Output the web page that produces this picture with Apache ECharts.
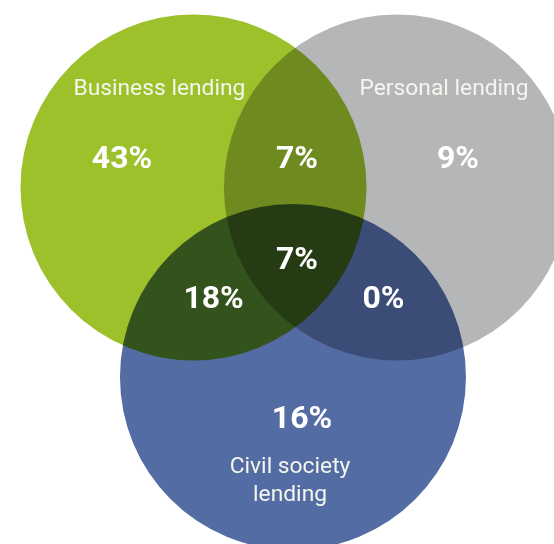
<!DOCTYPE html>
<html>
<head>
<meta charset="utf-8">
<script src="https://cdn.jsdelivr.net/npm/echarts@6/dist/echarts.min.js"></script>
<style>
  html, body { margin: 0; padding: 0; background: #ffffff; }
  #chart { width: 554px; height: 544px; }
</style>
</head>
<body>
<div id="chart"></div>
<script>
// Three lending types, each drawn as a unit circle in diagram units
const setNames = ['Business lending', 'Personal lending', 'Civil society\nlending'];
const setX = [0, 1.176, 0.575];
const setY = [0, 0, -1.095];
const setRadius = [1, 1, 1];
const setColors = ['#9cc12b', '#b5b6b8', '#536ca3'];

// Where each set's name sits
const nameX = [-0.197, 1.448, 0.558];
const nameY = [0.565, 0.565, -1.700];

// Share of loans in each region of the diagram (%)
const regionNames = ['Business only', 'Business + Personal', 'Personal only',
  'Business + Civil society', 'All three', 'Personal + Civil society', 'Civil society only'];
const regionValues = [43, 7, 9, 18, 7, 0, 16];
const regionX = [-0.413, 0.598, 1.529, 0.116, 0.598, 1.098, 0.627];
const regionY = [0.159, 0.159, 0.159, -0.651, -0.425, -0.651, -1.344];

const chart = echarts.init(document.getElementById('chart'), null, { renderer: 'canvas' });

const circleData = setX.map((x, i) => [x, setY[i], setRadius[i], i]);
const nameData = nameX.map((x, i) => [x, nameY[i], i]);
const regionData = regionX.map((x, i) => [x, regionY[i], regionValues[i]]);

const fontFamily = 'Roboto, "Open Sans", "Liberation Sans", sans-serif';

chart.setOption({
  backgroundColor: '#ffffff',
  animation: false,
  grid: { left: 0, right: 0, top: 0, bottom: 0 },
  xAxis: { type: 'value', min: -1.1185, max: 2.0838, show: false },
  yAxis: { type: 'value', min: -2.0607, max: 1.0838, show: false },
  series: [
    {
      type: 'custom',
      name: 'sets',
      coordinateSystem: 'cartesian2d',
      // overlapping areas darken like printed inks
      blendMode: 'multiply',
      data: circleData,
      renderItem: function (params, api) {
        const c = api.coord([api.value(0), api.value(1)]);
        const r = api.size([api.value(2), 0])[0];
        return {
          type: 'circle',
          shape: { cx: c[0], cy: c[1], r: r },
          style: { fill: setColors[api.value(3)] }
        };
      },
      z: 1
    },
    {
      type: 'custom',
      name: 'set names',
      coordinateSystem: 'cartesian2d',
      data: nameData,
      renderItem: function (params, api) {
        const c = api.coord([api.value(0), api.value(1)]);
        return {
          type: 'text',
          x: c[0],
          y: c[1],
          style: {
            text: setNames[api.value(2)],
            fill: '#f4f6ee',
            fontSize: 22.8,
            fontFamily: fontFamily,
            lineHeight: 28,
            align: 'center',
            verticalAlign: 'middle'
          }
        };
      },
      z: 2
    },
    {
      type: 'custom',
      name: 'regions',
      coordinateSystem: 'cartesian2d',
      data: regionData,
      renderItem: function (params, api) {
        const c = api.coord([api.value(0), api.value(1)]);
        return {
          type: 'text',
          x: c[0],
          y: c[1],
          style: {
            text: api.value(2) + '%',
            fill: '#ffffff',
            fontSize: 32,
            fontWeight: 'bold',
            fontFamily: fontFamily,
            align: 'center',
            verticalAlign: 'middle'
          }
        };
      },
      z: 3
    }
  ]
});
</script>
</body>
</html>
